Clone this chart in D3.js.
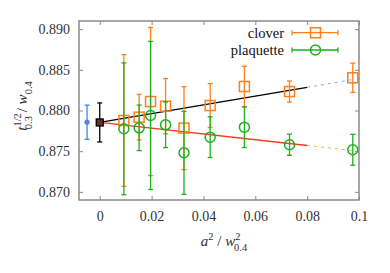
<!DOCTYPE html>
<html>
<head>
<meta charset="utf-8">
<script src="https://cdn.jsdelivr.net/npm/d3@7"></script>
<style>
  body { margin: 0; background: #fff; }
  svg text { font-family: "Liberation Serif", "DejaVu Serif", serif; }
</style>
</head>
<body>
<div id="chart"></div>
<script>
// values
const xVals = [0.0093, 0.0152, 0.0196, 0.0254, 0.0325, 0.0426, 0.0558, 0.0732, 0.0976];
const cloverY = [0.87877, 0.87918, 0.8811, 0.88053, 0.87783, 0.88061, 0.88295, 0.88233, 0.88402];
const cloverErr = [0.0081, 0.0028, 0.0091, 0.0034, 0.0051, 0.0027, 0.0025, 0.0013, 0.0018];
const plaqY = [0.87775, 0.87787, 0.87939, 0.87824, 0.8748, 0.87672, 0.87795, 0.87579, 0.87517];
const plaqErr = [0.0081, 0.0028, 0.0091, 0.0028, 0.0051, 0.0025, 0.0025, 0.0013, 0.0019];

const contX = 0, contY = 0.87853, contErr = 0.0024;
const otherX = -0.0049, otherY = 0.87856, otherErr = 0.0021;
const cloverSlope = 0.054, plaqSlope = -0.0354;
const fitEnd = 0.08, extrapEnd = 0.0976;

const xTicks = [0, 0.02, 0.04, 0.06, 0.08, 0.1];
const xTickLabels = ['0', '0.02', '0.04', '0.06', '0.08', '0.1'];
const yTicks = [0.870, 0.875, 0.880, 0.885, 0.890];
const yTickLabels = ['0.870', '0.875', '0.880', '0.885', '0.890'];
const legendNames = ['clover', 'plaquette'];

const config = {
  width: 390, height: 273,
  left: 79, right: 359, top: 21, bottom: 200,
  orange: '#ff7f1a', green: '#1eb01e', red: '#ee3a1e', blue: '#3d85e8',
  frame: '#8a8a8a', text: '#333'
};

const svg = d3.select('#chart').append('svg')
  .attr('width', config.width).attr('height', config.height);

const x = d3.scaleLinear().domain([-0.008, 0.1]).range([config.left, config.right]);
const y = d3.scaleLinear().domain([0.8690, 0.8910]).range([config.bottom, config.top]);

// axes with inward ticks on all four sides
const styleAxis = g => {
  g.select('.domain').remove();
  g.selectAll('.tick line').attr('stroke', config.frame).attr('stroke-width', 1);
  g.selectAll('.tick text').attr('fill', config.text).style('font-size', '14px');
};
svg.append('g').attr('transform', `translate(${config.left},0)`)
  .call(d3.axisLeft(y).tickValues(yTicks).tickSize(-4).tickSizeOuter(0).tickPadding(9)
    .tickFormat((d, i) => yTickLabels[i]))
  .call(styleAxis);
svg.append('g').attr('transform', `translate(${config.right},0)`)
  .call(d3.axisRight(y).tickValues(yTicks).tickSize(-4).tickSizeOuter(0).tickFormat(''))
  .call(styleAxis);
svg.append('g').attr('transform', `translate(0,${config.bottom})`)
  .call(d3.axisBottom(x).tickValues(xTicks).tickSize(-4).tickSizeOuter(0).tickPadding(11)
    .tickFormat((d, i) => xTickLabels[i]))
  .call(styleAxis);
svg.append('g').attr('transform', `translate(0,${config.top})`)
  .call(d3.axisTop(x).tickValues(xTicks).tickSize(-4).tickSizeOuter(0).tickFormat(''))
  .call(styleAxis);

svg.append('rect')
  .attr('x', config.left).attr('y', config.top)
  .attr('width', config.right - config.left).attr('height', config.bottom - config.top)
  .attr('fill', 'none').attr('stroke', config.frame).attr('stroke-width', 1.5);

// fit lines and extrapolations
const line = d3.line().x(d => x(d[0])).y(d => y(d[1]));
const fits = [
  {slope: cloverSlope, color: '#000', dash: '#7aaef0'},
  {slope: plaqSlope, color: config.red, dash: '#ffb23c'}
];
fits.forEach(f => {
  svg.append('path')
    .attr('d', line([[contX, contY], [fitEnd, contY + f.slope * fitEnd]]))
    .attr('stroke', f.color).attr('stroke-width', 1.3).attr('fill', 'none');
  svg.append('path')
    .attr('d', line([[fitEnd, contY + f.slope * fitEnd], [extrapEnd, contY + f.slope * extrapEnd]]))
    .attr('stroke', f.dash).attr('stroke-width', 1).attr('stroke-dasharray', '3,4')
    .attr('fill', 'none');
});

const errorBar = (g, cx, cy, err, color) => {
  const px = x(cx);
  g.append('line').attr('x1', px).attr('x2', px)
    .attr('y1', y(cy - err)).attr('y2', y(cy + err))
    .attr('stroke', color).attr('stroke-width', 1.3);
  [cy - err, cy + err].forEach(v => {
    g.append('line').attr('x1', px - 2.5).attr('x2', px + 2.5)
      .attr('y1', y(v)).attr('y2', y(v))
      .attr('stroke', color).attr('stroke-width', 1.3);
  });
};

const series = [
  {ys: cloverY, errs: cloverErr, color: config.orange, marker: 'square'},
  {ys: plaqY, errs: plaqErr, color: config.green, marker: 'circle'}
];

const drawMarker = (g, px, py, s) => {
  if (s.marker === 'square') {
    g.append('rect').attr('x', px - 5).attr('y', py - 5).attr('width', 10).attr('height', 10)
      .attr('fill', 'none').attr('stroke', s.color).attr('stroke-width', 1.5);
  } else {
    g.append('circle').attr('cx', px).attr('cy', py).attr('r', 5)
      .attr('fill', 'none').attr('stroke', s.color).attr('stroke-width', 1.5);
  }
};

series.forEach(s => {
  const g = svg.append('g');
  xVals.forEach((xv, i) => {
    errorBar(g, xv, s.ys[i], s.errs[i], s.color);
    drawMarker(g, x(xv), y(s.ys[i]), s);
  });
});

// continuum value and other result
const gc = svg.append('g');
errorBar(gc, otherX, otherY, otherErr, config.blue);
gc.append('circle').attr('cx', x(otherX)).attr('cy', y(otherY)).attr('r', 2.3).attr('fill', '#f5a030');
gc.append('circle').attr('cx', x(otherX)).attr('cy', y(otherY)).attr('r', 2.6).attr('fill', config.blue).attr('opacity', 0.85);
errorBar(gc, contX, contY, contErr, '#000');
gc.append('rect').attr('x', x(contX) - 3.5).attr('y', y(contY) - 3.5).attr('width', 7).attr('height', 7)
  .attr('fill', '#6a3020').attr('stroke', '#000').attr('stroke-width', 1.3);

// legend
const legend = svg.append('g');
series.forEach((s, i) => {
  const ly = 32.7 + i * 17.3;
  legend.append('text').attr('x', 284).attr('y', ly + 5).attr('text-anchor', 'end')
    .attr('fill', '#111').style('font-size', '14.5px').text(legendNames[i]);
  legend.append('line').attr('x1', 292).attr('x2', 338).attr('y1', ly).attr('y2', ly)
    .attr('stroke', s.color).attr('stroke-width', 1.3);
  [292, 338].forEach(cx => legend.append('line').attr('x1', cx).attr('x2', cx)
    .attr('y1', ly - 2.5).attr('y2', ly + 2.5).attr('stroke', s.color).attr('stroke-width', 1.3));
  drawMarker(legend, 315.5, ly, s);
});

// axis titles
const xl = svg.append('text').attr('x', 224).attr('y', 246).attr('text-anchor', 'middle')
  .attr('fill', config.text).style('font-size', '15px');
xl.append('tspan').style('font-style', 'italic').text('a');
xl.append('tspan').style('font-size', '10.5px').attr('dy', -6).text('2');
xl.append('tspan').attr('dy', 6).text(' / ');
xl.append('tspan').style('font-style', 'italic').text('w');
xl.append('tspan').style('font-size', '10.5px').attr('dy', -6).text('2');
xl.append('tspan').style('font-size', '10.5px').attr('dx', -6.5).attr('dy', 11).text('0.4');

const yl = svg.append('text').attr('transform', 'translate(27,106) rotate(-90)')
  .attr('text-anchor', 'middle').attr('fill', config.text).style('font-size', '15px');
yl.append('tspan').style('font-style', 'italic').text('t');
yl.append('tspan').style('font-size', '10.5px').attr('dy', -6).text('1/2');
yl.append('tspan').style('font-size', '10.5px').attr('dx', -16).attr('dy', 11).text('0.3');
yl.append('tspan').attr('dy', -5).text(' / ');
yl.append('tspan').style('font-style', 'italic').text('w');
yl.append('tspan').style('font-size', '10.5px').attr('dy', 5).text('0.4');
</script>
</body>
</html>
